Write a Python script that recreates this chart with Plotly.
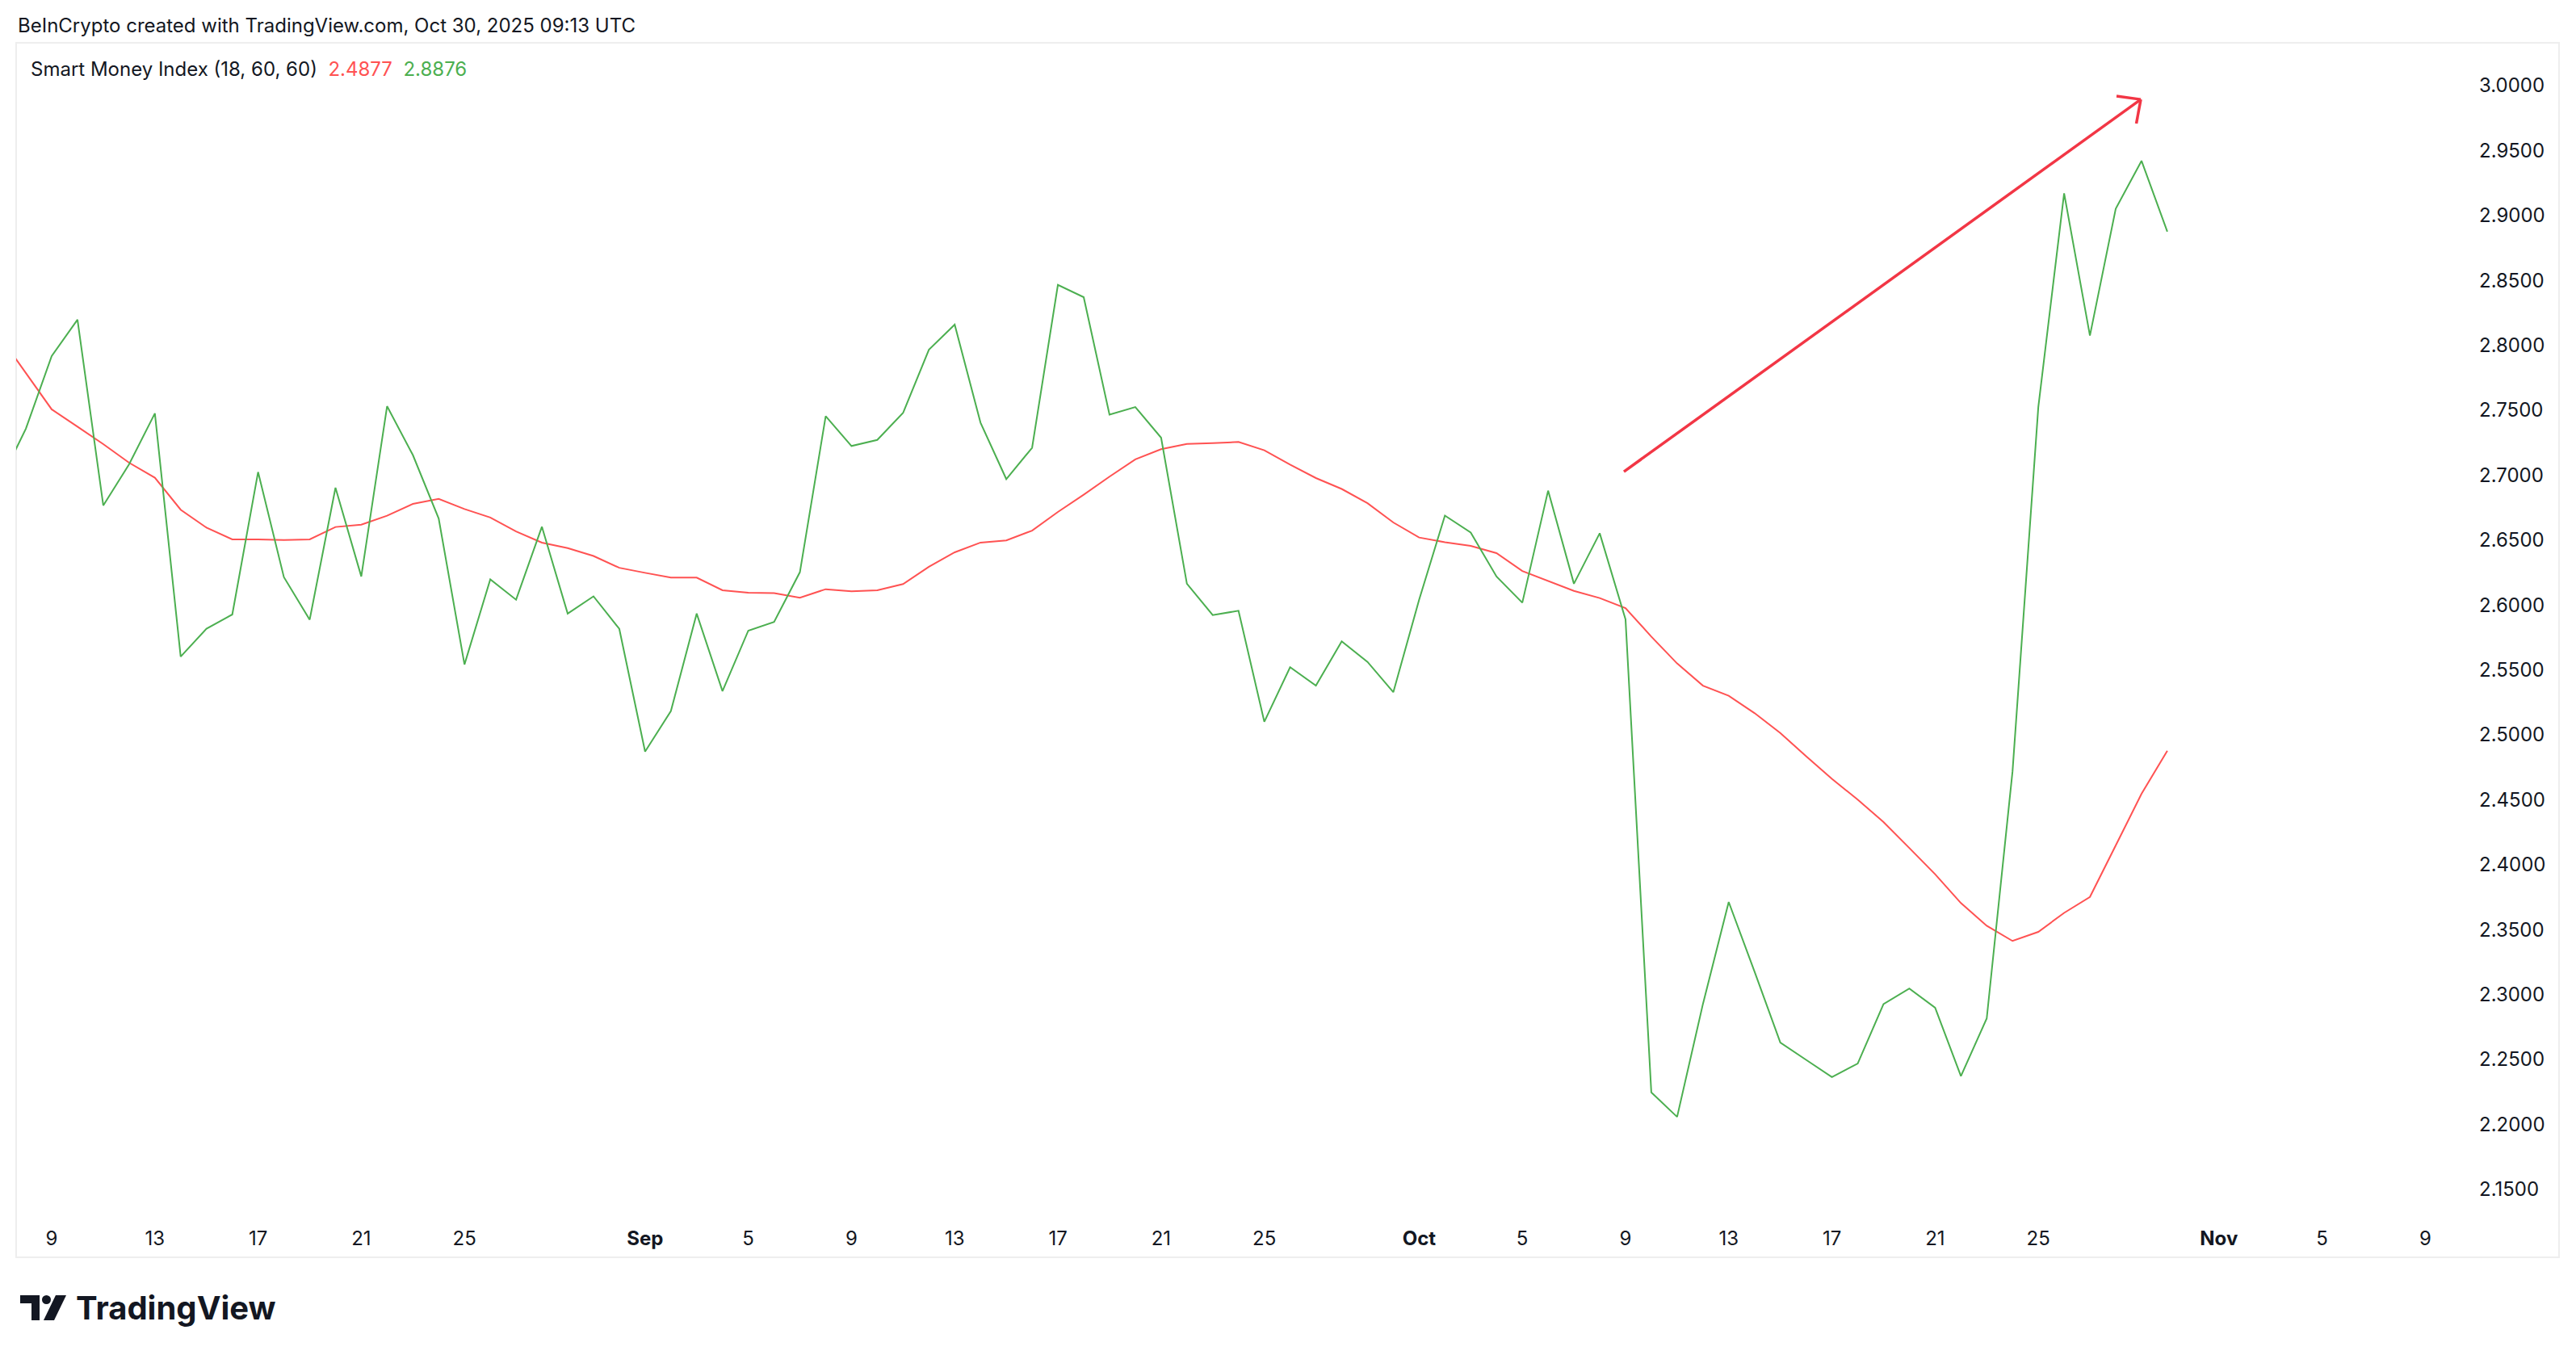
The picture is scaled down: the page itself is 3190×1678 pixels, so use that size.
import plotly.graph_objects as go
import pandas as pd

# Daily values, Aug 7 .. Oct 30 2025
dates = pd.date_range("2025-08-07", "2025-10-30", freq="D")

smi_fast = [  # green line
    2.6950, 2.7358, 2.7917, 2.8198, 2.6767, 2.7084, 2.7476, 2.5603, 2.5818, 2.5927,
    2.7024, 2.6215, 2.5887, 2.6903, 2.6220, 2.7531, 2.7155, 2.6667, 2.5542, 2.6198,
    2.6041, 2.6603, 2.5934, 2.6067, 2.5817,
    2.4871, 2.5184, 2.5934, 2.5337, 2.5803, 2.5870, 2.6253, 2.7455, 2.7225, 2.7272,
    2.7480, 2.7966, 2.8160, 2.7405, 2.6970, 2.7211, 2.8466, 2.8371, 2.7466, 2.7525,
    2.7289, 2.6164, 2.5923, 2.5956, 2.5101, 2.5521, 2.5379, 2.5720, 2.5562, 2.5329,
    2.6040, 2.6689, 2.6558, 2.6220, 2.6018, 2.6881, 2.6164, 2.6553, 2.5890, 2.2247,
    2.2058, 2.2927, 2.3713, 2.3177, 2.2631, 2.2497, 2.2364, 2.2469, 2.2927, 2.3047,
    2.2899, 2.2372, 2.2816, 2.4718, 2.7525, 2.9171, 2.8075, 2.9052, 2.9421, 2.8876,
]

smi_slow = [  # red line
    2.8067, 2.7787, 2.7507, 2.7374, 2.7239, 2.7096, 2.6981, 2.6734, 2.6596, 2.6506,
    2.6506, 2.6501, 2.6506, 2.6601, 2.6619, 2.6688, 2.6779, 2.6817, 2.6739, 2.6674,
    2.6567, 2.6481, 2.6439, 2.6378, 2.6287,
    2.6248, 2.6211, 2.6211, 2.6114, 2.6095, 2.6092, 2.6056, 2.6122, 2.6106, 2.6114,
    2.6162, 2.6295, 2.6406, 2.6481, 2.6498, 2.6573, 2.6717, 2.6850, 2.6989, 2.7122,
    2.7200, 2.7241, 2.7247, 2.7256, 2.7192, 2.7081, 2.6978, 2.6894, 2.6784, 2.6636,
    2.6520, 2.6484, 2.6456, 2.6400, 2.6262, 2.6184, 2.6109, 2.6054, 2.5976, 2.5757,
    2.5550, 2.5379, 2.5301, 2.5168, 2.5015, 2.4835, 2.4662, 2.4501, 2.4329, 2.4129,
    2.3927, 2.3705, 2.3530, 2.3413, 2.3483, 2.3629, 2.3752, 2.4148, 2.4546, 2.4877,
]

tick_dates = ["2025-08-09", "2025-08-13", "2025-08-17", "2025-08-21", "2025-08-25",
              "2025-09-01", "2025-09-05", "2025-09-09", "2025-09-13", "2025-09-17",
              "2025-09-21", "2025-09-25", "2025-10-01", "2025-10-05", "2025-10-09",
              "2025-10-13", "2025-10-17", "2025-10-21", "2025-10-25", "2025-11-01",
              "2025-11-05", "2025-11-09"]
tick_text = ["9", "13", "17", "21", "25", "<b>Sep</b>", "5", "9", "13", "17", "21", "25",
             "<b>Oct</b>", "5", "9", "13", "17", "21", "25", "<b>Nov</b>", "5", "9"]

price_ticks = [2.15, 2.20, 2.25, 2.30, 2.35, 2.40, 2.45, 2.50, 2.55, 2.60,
               2.65, 2.70, 2.75, 2.80, 2.85, 2.90, 2.95, 3.00]

# drawn arrow (start -> tip) and its two barbs
arrow_start = ("2025-10-08 22:30", 2.7027)
arrow_tip = ("2025-10-28 23:20", 2.9894)
arrow_barbs = [("2025-10-28 00:45", 2.9919), ("2025-10-28 19:10", 2.9708)]

RED = "#FF5252"
GREEN = "#4CAF50"
ARROW = "#F23645"
TEXT = "#131722"
FONT = "Inter, Roboto, sans-serif"

# the page body adds an 8px margin, so shift everything up/left by that much
OFF = 8
W, H = 3190 - OFF, 1678 - OFF
L, R, T, B = 20 - OFF, 3055 - OFF, 53 - OFF, 1501 - OFF  # plot area in pixels


def px_x(px):
    return (px - OFF - L) / (R - L)


def px_y(py):
    return (B - (py - OFF)) / (B - T)


fig = go.Figure()

fig.add_trace(go.Scatter(x=dates, y=smi_slow, mode="lines",
                         line=dict(color=RED, width=2), hoverinfo="skip"))
fig.add_trace(go.Scatter(x=dates, y=smi_fast, mode="lines",
                         line=dict(color=GREEN, width=2), hoverinfo="skip"))

# arrow
fig.add_shape(type="line", xref="x", yref="y",
              x0=arrow_start[0], y0=arrow_start[1], x1=arrow_tip[0], y1=arrow_tip[1],
              line=dict(color=ARROW, width=3.5))
for bx, by in arrow_barbs:
    fig.add_shape(type="line", xref="x", yref="y",
                  x0=bx, y0=by, x1=arrow_tip[0], y1=arrow_tip[1],
                  line=dict(color=ARROW, width=3.5))

# chart frame
fig.add_shape(type="rect", xref="paper", yref="paper",
              x0=px_x(20), x1=px_x(3169), y0=px_y(1557), y1=px_y(53),
              line=dict(color="#EEEEEE", width=2), layer="below")

# header
fig.add_annotation(text="BeInCrypto created with TradingView.com, Oct 30, 2025 09:13 UTC",
                   xref="paper", yref="paper", x=px_x(20), y=px_y(32),
                   xanchor="left", yanchor="middle", showarrow=False,
                   font=dict(family=FONT, size=24, color=TEXT))

# indicator legend
legend_text = ("Smart Money Index (18, 60, 60)&nbsp;&nbsp;"
               f"<span style='color:{RED}'>{smi_slow[-1]:.4f}</span>&nbsp;&nbsp;"
               f"<span style='color:{GREEN}'>{smi_fast[-1]:.4f}</span>")
fig.add_annotation(text=legend_text, xref="paper", yref="paper",
                   x=px_x(36), y=px_y(86), xanchor="left", yanchor="middle",
                   showarrow=False, font=dict(family=FONT, size=24, color=TEXT))

# TradingView logo: icon + word mark
logo_paths = [
    [(25, 1604), (49, 1604), (49, 1635), (39, 1635), (39, 1614), (25, 1614)],
    [(69, 1604), (82, 1604), (67, 1635), (54, 1635)],
]
for pts in logo_paths:
    path = "M " + " L ".join(f"{px_x(a):.5f},{px_y(b):.5f}" for a, b in pts) + " Z"
    fig.add_shape(type="path", xref="paper", yref="paper", path=path,
                  fillcolor=TEXT, line=dict(width=0))
fig.add_shape(type="circle", xref="paper", yref="paper",
              x0=px_x(52), x1=px_x(63), y0=px_y(1615), y1=px_y(1604),
              fillcolor=TEXT, line=dict(width=0))
fig.add_annotation(text="<b>TradingView</b>", xref="paper", yref="paper",
                   x=px_x(92), y=px_y(1619), xanchor="left", yanchor="middle",
                   showarrow=False, font=dict(family=FONT, size=40, color=TEXT))

fig.update_layout(
    width=W, height=H,
    margin=dict(l=L, r=W - R, t=T, b=H - B),
    paper_bgcolor="white", plot_bgcolor="white",
    showlegend=False,
    font=dict(family=FONT, color=TEXT),
    xaxis=dict(
        range=["2025-08-07 14:57", "2025-11-10 14:45"],
        tickvals=tick_dates, ticktext=tick_text,
        showgrid=False, zeroline=False, showline=False, ticks="",
        tickfont=dict(size=24, color=TEXT), ticklabelstandoff=16,
    ),
    yaxis=dict(
        side="right", range=[2.1325, 3.033],
        tickvals=price_ticks, tickformat=".4f",
        showgrid=False, zeroline=False, showline=False, ticks="",
        tickfont=dict(size=24, color=TEXT), ticklabelstandoff=14,
    ),
)

fig.write_html("out.html")
